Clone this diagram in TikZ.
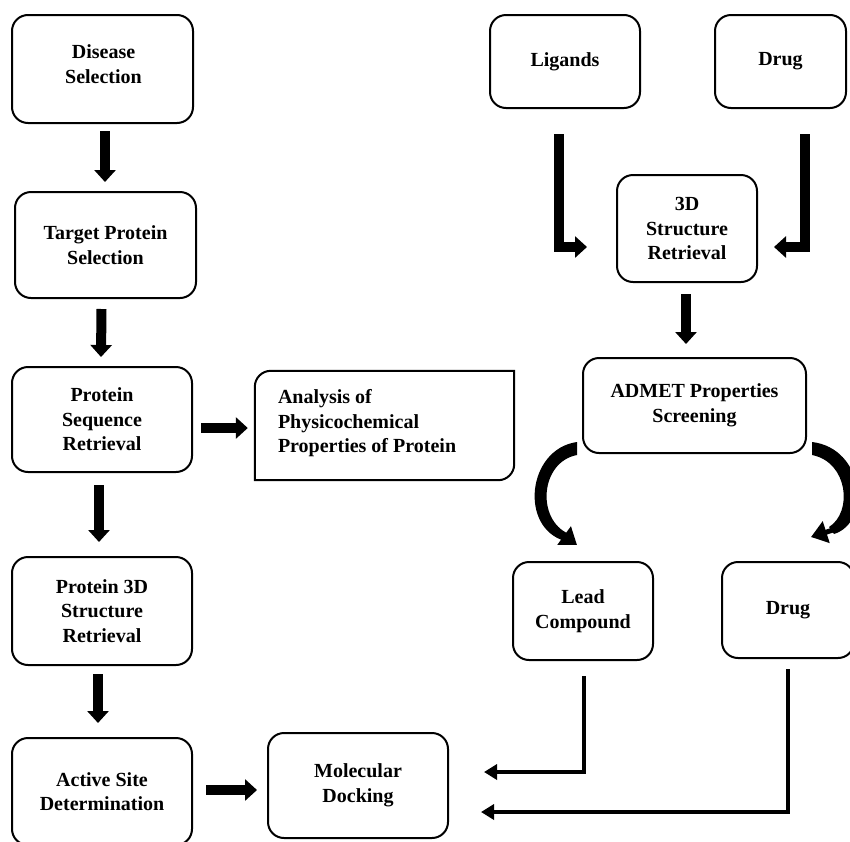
\documentclass[tikz,border=0pt]{standalone}
\usepackage{fontspec}
\setmainfont{Liberation Serif}
\usetikzlibrary{arrows.meta,calc}
\tikzset{
  boxtext/.style={font=\fontsize{20}{24.5}\selectfont\bfseries},
  box/.style={draw, line width=2pt, rounded corners=16pt, align=center, inner sep=0pt, boxtext},
  blockarrow/.style={line width=10pt, -{Triangle[width=21pt,length=12pt]}},
  bentarrow/.style={line width=10pt, line join=miter, -{Triangle[width=21pt,length=12pt]}},
  headonly/.style={line width=5pt, -{Triangle[width=22pt,length=16pt]}},
  thinarrow/.style={line width=4pt, line join=miter, -{Triangle[width=15pt,length=13pt]}}
}
\begin{document}
\begin{tikzpicture}[x=1pt,y=-1pt]
\clip (0,0) rectangle (850,841);
\fill[white] (0,0) rectangle (850,841);
% left column
\node[box, minimum width=181pt, minimum height=108pt] (dis) at (102.5,69) {};
\node[boxtext, align=center, inner sep=0pt] (distext) at ($(dis.center)+(1,-5)$) {Disease\\Selection};
\node[box, minimum width=181pt, minimum height=106pt] (tar) at (105.5,245) {Target Protein\\Selection};
\node[box, minimum width=180pt, minimum height=105pt] (seq) at (102,419.5) {Protein\\Sequence\\Retrieval};
\node[box, minimum width=180pt, minimum height=108pt] (s3d) at (102,611) {Protein 3D\\Structure\\Retrieval};
\node[box, minimum width=180pt, minimum height=107pt] (act) at (102,791.5) {Active Site\\Determination};
\node[box, minimum width=180pt, minimum height=105pt] (doc) at (358,785.5) {Molecular\\Docking};
% analysis box
\node[minimum width=259pt, minimum height=109pt, inner sep=0pt] (ana) at (384.5,425.5) {};
\draw[line width=2pt] (ana.west) [rounded corners=16pt] -- (ana.north west) -- (ana.north)
  [sharp corners] -- (ana.north east) -- (ana.east)
  [rounded corners=16pt] -- (ana.south east) -- (ana.south)
  [sharp corners] -- (ana.south west) -- cycle;
\node[anchor=west, align=left, inner sep=0pt, boxtext] (anatext)
  at ($(ana.west)+(23,-2)$) {Analysis of\\Physicochemical\\Properties of Protein};
% right side
\node[box, minimum width=150pt, minimum height=93pt] (lig) at (565,61.5) {Ligands};
\node[box, minimum width=131pt, minimum height=93pt] (drg) at (780.5,61.5) {Drug};
\node[box, minimum width=140pt, minimum height=107pt] (r3d) at (687,228.5) {3D\\Structure\\Retrieval};
\node[box, minimum width=223pt, minimum height=95pt] (adm) at (694.5,405.5) {ADMET Properties\\Screening};
\node[box, minimum width=140pt, minimum height=98pt] (lea) at (583,611) {Lead\\Compound};
\node[box, minimum width=132pt, minimum height=96pt] (dr2) at (788,610) {Drug};
% block arrows
\draw[blockarrow] ($(dis.south)+(2.5,7)$) -- ($(tar.north)+(-0.5,-9)$);
\draw[blockarrow] ($(tar.south)+(-4,10)$) -- ($(seq.north)+(-1,-9)$);
\draw[blockarrow] ($(seq.south)+(-3,12)$) -- ($(s3d.north)+(-3,-14)$);
\draw[blockarrow] ($(s3d.south)+(-4,8)$) -- ($(act.north)+(-4,-14)$);
\draw[blockarrow] ($(seq.east)+(8,8.5)$) -- ($(ana.west)+(-7,2.5)$);
\draw[blockarrow] ($(act.east)+(13,-1.5)$) -- ($(doc.west)+(-10,4.5)$);
\draw[blockarrow] ($(r3d.south)+(-1,11)$) -- ($(adm.north)+(-8.5,-13)$);
% bent arrows into 3D structure retrieval
\draw[bentarrow] ($(lig.south)+(-6,25)$) |- ($(r3d.west)+(-29,18.5)$);
\draw[bentarrow] ($(drg.south)+(24.5,25)$) |- ($(r3d.east)+(16,18.5)$);
% curved tapered arrows from ADMET
\fill (577,442) .. controls (527,449) and (519,528) .. (565,541)
  -- (569,534) .. controls (536,520) and (540,462) .. (577,455) -- cycle;
\coordinate (lh1) at (562,534);
\coordinate (lh2) at ($(lea.north)+(-6,-16)$);
\draw[headonly] (lh1) -- (lh2);
\fill (812,442) .. controls (864,448) and (872,522) .. (834,534)
  -- (829,527) .. controls (853,512) and (848,462) .. (812,455) -- cycle;
\coordinate (rh1) at (836,529);
\coordinate (rh2) at ($(dr2.north)+(23,-24)$);
\draw[headonly] (rh1) -- (rh2);
% thin arrows into docking
\draw[thinarrow] ($(lea.south)+(1,15)$) |- ($(doc.east)+(35,-13.5)$);
\draw[thinarrow] ($(dr2.south)+(0,10)$) |- ($(doc.east)+(32,26.5)$);
\end{tikzpicture}
\end{document}
